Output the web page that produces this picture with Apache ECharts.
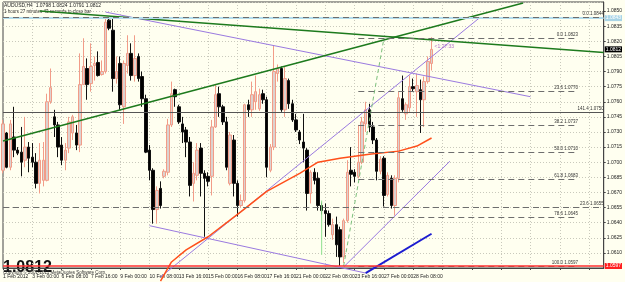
<!DOCTYPE html>
<html>
<head>
<meta charset="utf-8">
<title>AUDUSD H4</title>
<script src="https://cdn.jsdelivr.net/npm/echarts@6/dist/echarts.min.js"></script>
<style>
  html, body { margin: 0; padding: 0; background: #fffff0; }
  #chart { width: 625px; height: 282px; }
</style>
</head>
<body>
<div id="chart"></div>
<script>
// AUDUSD H4, first visible bar 1 Feb 2012 16:00, 6 bars a day, chart shifted right
const slotCount = 165;
const labelStep = 8;
const timeLabels = ['1 Feb 2012', '3 Feb 00:00', '6 Feb 08:00', '7 Feb 16:00', '9 Feb 00:00',
  '10 Feb 08:00', '13 Feb 16:00', '15 Feb 00:00', '16 Feb 08:00', '17 Feb 16:00',
  '21 Feb 00:00', '22 Feb 08:00', '23 Feb 16:00', '27 Feb 00:00', '28 Feb 08:00'];

// [open, close, low, high]
const candles = [
  [1.0692, 1.0738, 1.0689, 1.0742], [1.0729, 1.0695, 1.0694, 1.0730], [1.0695, 1.0738, 1.0692, 1.0742],
  [1.0725, 1.0712, 1.0705, 1.0755], [1.0712, 1.0709, 1.0707, 1.0715], [1.0710, 1.0700, 1.0686, 1.0735],
  [1.0702, 1.0715, 1.0695, 1.0745], [1.0715, 1.0704, 1.0690, 1.0720], [1.0705, 1.0700, 1.0695, 1.0719],
  [1.0700, 1.0679, 1.0674, 1.0709], [1.0679, 1.0702, 1.0669, 1.0719], [1.0682, 1.0702, 1.0676, 1.0720],
  [1.0682, 1.0760, 1.0681, 1.0768], [1.0760, 1.0774, 1.0758, 1.0793], [1.0745, 1.0737, 1.0725, 1.0752],
  [1.0737, 1.0715, 1.0705, 1.0740], [1.0717, 1.0702, 1.0697, 1.0725], [1.0702, 1.0712, 1.0692, 1.0719],
  [1.0714, 1.0740, 1.0709, 1.0745], [1.0729, 1.0745, 1.0722, 1.0747], [1.0729, 1.0717, 1.0712, 1.0737],
  [1.0717, 1.0777, 1.0710, 1.0808], [1.0777, 1.0795, 1.0777, 1.0823], [1.0793, 1.0777, 1.0762, 1.0803],
  [1.0778, 1.0795, 1.0770, 1.0818], [1.0796, 1.0798, 1.0781, 1.0805], [1.0799, 1.0786, 1.0785, 1.0810],
  [1.0787, 1.0790, 1.0786, 1.0801], [1.0790, 1.0839, 1.0788, 1.0843], [1.0841, 1.0833, 1.0831, 1.0844],
  [1.0831, 1.0783, 1.0770, 1.0843], [1.0783, 1.0790, 1.0778, 1.0805], [1.0798, 1.0757, 1.0752, 1.0805],
  [1.0755, 1.0798, 1.0738, 1.0801], [1.0796, 1.0808, 1.0788, 1.0826], [1.0808, 1.0786, 1.0781, 1.0818],
  [1.0786, 1.0803, 1.0780, 1.0826], [1.0805, 1.0783, 1.0780, 1.0808], [1.0785, 1.0763, 1.0755, 1.0790],
  [1.0763, 1.0710, 1.0709, 1.0767], [1.0712, 1.0692, 1.0682, 1.0717], [1.0692, 1.0653, 1.0639, 1.0694],
  [1.0653, 1.0672, 1.0639, 1.0676], [1.0674, 1.0657, 1.0654, 1.0681], [1.0686, 1.0691, 1.0684, 1.0693],
  [1.0690, 1.0737, 1.0687, 1.0743], [1.0737, 1.0768, 1.0735, 1.0780], [1.0772, 1.0765, 1.0755, 1.0773],
  [1.0755, 1.0740, 1.0738, 1.0757], [1.0738, 1.0730, 1.0719, 1.0745], [1.0732, 1.0720, 1.0705, 1.0735],
  [1.0720, 1.0677, 1.0666, 1.0725], [1.0679, 1.0689, 1.0661, 1.0700], [1.0687, 1.0712, 1.0682, 1.0719],
  [1.0714, 1.0689, 1.0666, 1.0719], [1.0689, 1.0684, 1.0626, 1.0692], [1.0686, 1.0681, 1.0676, 1.0690],
  [1.0686, 1.0735, 1.0667, 1.0742], [1.0735, 1.0767, 1.0734, 1.0777], [1.0768, 1.0755, 1.0745, 1.0775],
  [1.0755, 1.0740, 1.0737, 1.0757], [1.0740, 1.0695, 1.0692, 1.0745], [1.0679, 1.0727, 1.0677, 1.0730],
  [1.0722, 1.0679, 1.0666, 1.0727], [1.0679, 1.0657, 1.0646, 1.0682], [1.0657, 1.0662, 1.0655, 1.0668],
  [1.0662, 1.0757, 1.0660, 1.0758], [1.0757, 1.0752, 1.0745, 1.0762], [1.0752, 1.0767, 1.0745, 1.0780],
  [1.0760, 1.0770, 1.0752, 1.0786], [1.0753, 1.0767, 1.0751, 1.0773], [1.0768, 1.0762, 1.0758, 1.0772],
  [1.0762, 1.0695, 1.0685, 1.0765], [1.0692, 1.0715, 1.0690, 1.0718], [1.0715, 1.0790, 1.0712, 1.0816],
  [1.0788, 1.0793, 1.0780, 1.0797], [1.0793, 1.0752, 1.0750, 1.0795], [1.0752, 1.0783, 1.0745, 1.0795],
  [1.0781, 1.0758, 1.0753, 1.0783], [1.0758, 1.0742, 1.0740, 1.0762], [1.0742, 1.0732, 1.0730, 1.0748],
  [1.0730, 1.0722, 1.0718, 1.0732], [1.0720, 1.0714, 1.0700, 1.0748], [1.0712, 1.0669, 1.0652, 1.0714],
  [1.0669, 1.0690, 1.0659, 1.0692], [1.0690, 1.0682, 1.0678, 1.0694], [1.0684, 1.0657, 1.0652, 1.0690],
  [1.0657, 1.0652, 1.0648, 1.0660], [1.0652, 1.0649, 1.0626, 1.0659], [1.0649, 1.0638, 1.0636, 1.0652],
  [1.0628, 1.0638, 1.0623, 1.0644], [1.0638, 1.0618, 1.0606, 1.0646], [1.0633, 1.0606, 1.0597, 1.0636],
  [1.0606, 1.0642, 1.0600, 1.0644], [1.0642, 1.0690, 1.0640, 1.0702], [1.0692, 1.0688, 1.0676, 1.0715],
  [1.0690, 1.0686, 1.0680, 1.0693], [1.0686, 1.0700, 1.0684, 1.0737], [1.0700, 1.0740, 1.0698, 1.0745],
  [1.0738, 1.0752, 1.0730, 1.0760], [1.0752, 1.0735, 1.0730, 1.0758], [1.0735, 1.0722, 1.0718, 1.0740],
  [1.0722, 1.0691, 1.0682, 1.0724], [1.0691, 1.0703, 1.0688, 1.0706], [1.0704, 1.0667, 1.0656, 1.0706],
  [1.0668, 1.0687, 1.0666, 1.0690], [1.0684, 1.0657, 1.0654, 1.0687], [1.0657, 1.0684, 1.0647, 1.0687],
  [1.0684, 1.0764, 1.0680, 1.0770], [1.0763, 1.0752, 1.0750, 1.0786], [1.0748, 1.0757, 1.0742, 1.0759],
  [1.0754, 1.0775, 1.0750, 1.0786], [1.0775, 1.0773, 1.0770, 1.0783], [1.0770, 1.0776, 1.0745, 1.0788],
  [1.0772, 1.0762, 1.0729, 1.0782], [1.0762, 1.0780, 1.0735, 1.0785], [1.0780, 1.0800, 1.0778, 1.0805],
  [1.0798, 1.0812, 1.0791, 1.0824]
];

// moving average (bar index, price)
const maLine = [[43, 1.0582], [46, 1.0601], [50, 1.0613], [56, 1.0626], [65, 1.0651], [72, 1.0671],
  [81, 1.0689], [86, 1.0700], [92, 1.0704], [100, 1.0708], [108, 1.0711], [113, 1.0716], [117, 1.0724]];

// trend lines (bar index, price)
const greenUp = [[0, 1.0721], [142, 1.0858]];
const greenDown = [[10, 1.0850], [164, 1.0809]];
const purpleTop = [[28, 1.0849], [144, 1.0765]];
const purpleRise = [[43, 1.0586], [130, 1.0843]];
const purpleLow = [[93, 1.0596], [122, 1.0701]];
const purpleFall = [[40, 1.0637], [99, 1.0590]];
const blueLine = [[99, 1.0590], [117, 1.0629]];
const fiboDiag = [[93, 1.0597], [104, 1.0823]];
const greenMark = [[87, 1.0662], [87, 1.0608]];

// fibonacci levels
const fibLevels = ['0.0', '23.6', '38.2', '50.0', '61.8', '78.6', '100.0'];
const fibPrices = [1.0823, 1.0770, 1.0737, 1.0710, 1.0683, 1.0645, 1.0597];
const fibFrom = 97, fibTo = 157;
const wideLevels = ['0.0', '23.6', '141.4'];
const widePrices = [1.0844, 1.0655, 1.0750];

const lastPrice = 1.0812;
const lowPrice = 1.0597;
const bluePrice = 1.0843;

const font = 'Liberation Sans';
const lastSlot = slotCount - 1;
const cats = Array.from({ length: slotCount }, (_, i) => String(i));

function trend(data, color, width, type) {
  return {
    type: 'line', data: data, symbol: 'none', clip: false, silent: true,
    lineStyle: { color: color, width: width, type: type || 'solid' }
  };
}

function levelLabel(text) {
  return { show: true, position: 'insideEndTop', formatter: text,
    fontSize: 4.5, color: '#333', fontFamily: font, distance: [0, 1] };
}

function boxLabel(text, bg) {
  return { show: true, position: 'end', formatter: text, distance: 1,
    backgroundColor: bg, color: '#fff', fontSize: 5, fontFamily: font, padding: [1, 1, 0, 1] };
}

// horizontal segment from one bar slot to another
function hline(price, from, to, lineStyle, label) {
  return [{ coord: [from, price], lineStyle: lineStyle, label: label }, { coord: [to, price] }];
}

const dashed = { color: '#6e6e6e', width: 1.2, type: [6, 4] };

const fibMarks = fibLevels.map((lv, k) =>
  hline(fibPrices[k], fibFrom, fibTo, dashed, levelLabel(lv + ' ' + fibPrices[k].toFixed(4))));

const wideMarks = wideLevels.map((lv, k) =>
  hline(widePrices[k], 0, lastSlot, k === 2 ? { color: '#555', width: 1, type: 'solid' } : dashed,
    levelLabel(lv + ' ' + widePrices[k].toFixed(4))));

const chart = echarts.init(document.getElementById('chart'));
chart.setOption({
  animation: false,
  backgroundColor: '#fffff0',
  grid: { left: 2, right: 17, top: 2, bottom: 14, show: true, borderColor: '#444', borderWidth: 1 },
  xAxis: {
    type: 'category', data: cats, boundaryGap: false,
    axisLine: { lineStyle: { color: '#444' } },
    axisTick: { interval: (i) => i % labelStep === 0, length: 2, lineStyle: { color: '#444' } },
    axisLabel: {
      interval: (i) => i % labelStep === 0 && i / labelStep < timeLabels.length,
      formatter: (v, i) => timeLabels[i / labelStep],
      align: 'left', fontSize: 5, color: '#222', margin: 6, fontFamily: font
    },
    splitLine: { show: true, interval: (i) => i % labelStep === 0 && i > 0,
      lineStyle: { color: '#c9c9bc', type: [1, 2] } }
  },
  yAxis: {
    type: 'value', position: 'right', min: 1.0595, max: 1.0859, interval: 0.0015,
    axisLine: { show: true, lineStyle: { color: '#444' } },
    axisTick: { show: true, length: 2 },
    axisLabel: { fontSize: 5, color: '#222', margin: 3, showMinLabel: false, showMaxLabel: false,
      fontFamily: font, formatter: (v) => v.toFixed(4) },
    splitLine: { lineStyle: { color: '#c9c9bc', type: [1, 2] } }
  },
  series: [
    {
      type: 'line', data: [], silent: true, clip: false,
      markLine: {
        silent: true, symbol: ['none', 'none'], animation: false,
        data: [
          hline(bluePrice, 0, lastSlot, { color: '#b4dcec', width: 2, type: 'solid' },
            boxLabel(bluePrice.toFixed(4), '#a8d4e6')),
          ...wideMarks,
          ...fibMarks,
          hline(lowPrice, 0, lastSlot, { color: '#ff3030', width: 1.5, type: 'solid' },
            boxLabel(lowPrice.toFixed(4), '#ff2020')),
          hline(lastPrice, lastSlot - 1, lastSlot, { color: 'rgba(0,0,0,0)', width: 1 },
            boxLabel(lastPrice.toFixed(4), '#000'))
        ]
      }
    },
    trend(purpleTop, '#9a7ae0', 1),
    trend(purpleRise, '#9a7ae0', 1),
    trend(purpleLow, '#9a7ae0', 1),
    trend(purpleFall, '#9a7ae0', 1),
    trend(fiboDiag, '#7cc07c', 1, [4, 3]),
    trend(greenMark, '#8ee08e', 1),
    {
      type: 'candlestick', data: candles, barWidth: 3, silent: true,
      itemStyle: { color: '#dcd2cf', color0: '#000', borderColor: '#f29c88', borderColor0: '#111', borderWidth: 1 }
    },
    trend(maLine, '#ff4f1a', 1.5),
    trend(greenUp, '#1d7a1d', 1.5),
    trend(greenDown, '#1d7a1d', 1.5),
    trend(blueLine, '#1c1cd0', 2),
    {
      type: 'line', data: [], silent: true, clip: false,
      markPoint: {
        symbol: 'circle', symbolSize: 0, silent: true,
        data: [{ coord: [117, 1.0815], label: { show: true, position: 'right', distance: 3,
          formatter: '<1:27:33', fontSize: 5, color: '#b070c8', fontFamily: font } }]
      }
    }
  ],
  graphic: [
    { type: 'text', left: 4, top: 3, silent: true,
      style: { text: 'AUDUSD,H4  1.0798 1.0824 1.0791 1.0812', fontSize: 5, fontFamily: font, fill: '#222' } },
    { type: 'text', left: 4, top: 9, silent: true,
      style: { text: '1 hours 27 minutes 43 seconds to close bar', fontSize: 4.5, fontFamily: font, fill: '#222' } },
    { type: 'text', left: 3, top: 260, silent: true,
      style: { text: '1.0812', font: 'bold 16px "Liberation Sans"', fill: '#111' } },
    { type: 'text', left: 3, top: 270, silent: true,
      style: { text: 'Copyright © 2001-2011 MetaQuotes Software Corp.', fontSize: 4.5, fontFamily: font, fill: '#333' } }
  ]
});
</script>
</body>
</html>
